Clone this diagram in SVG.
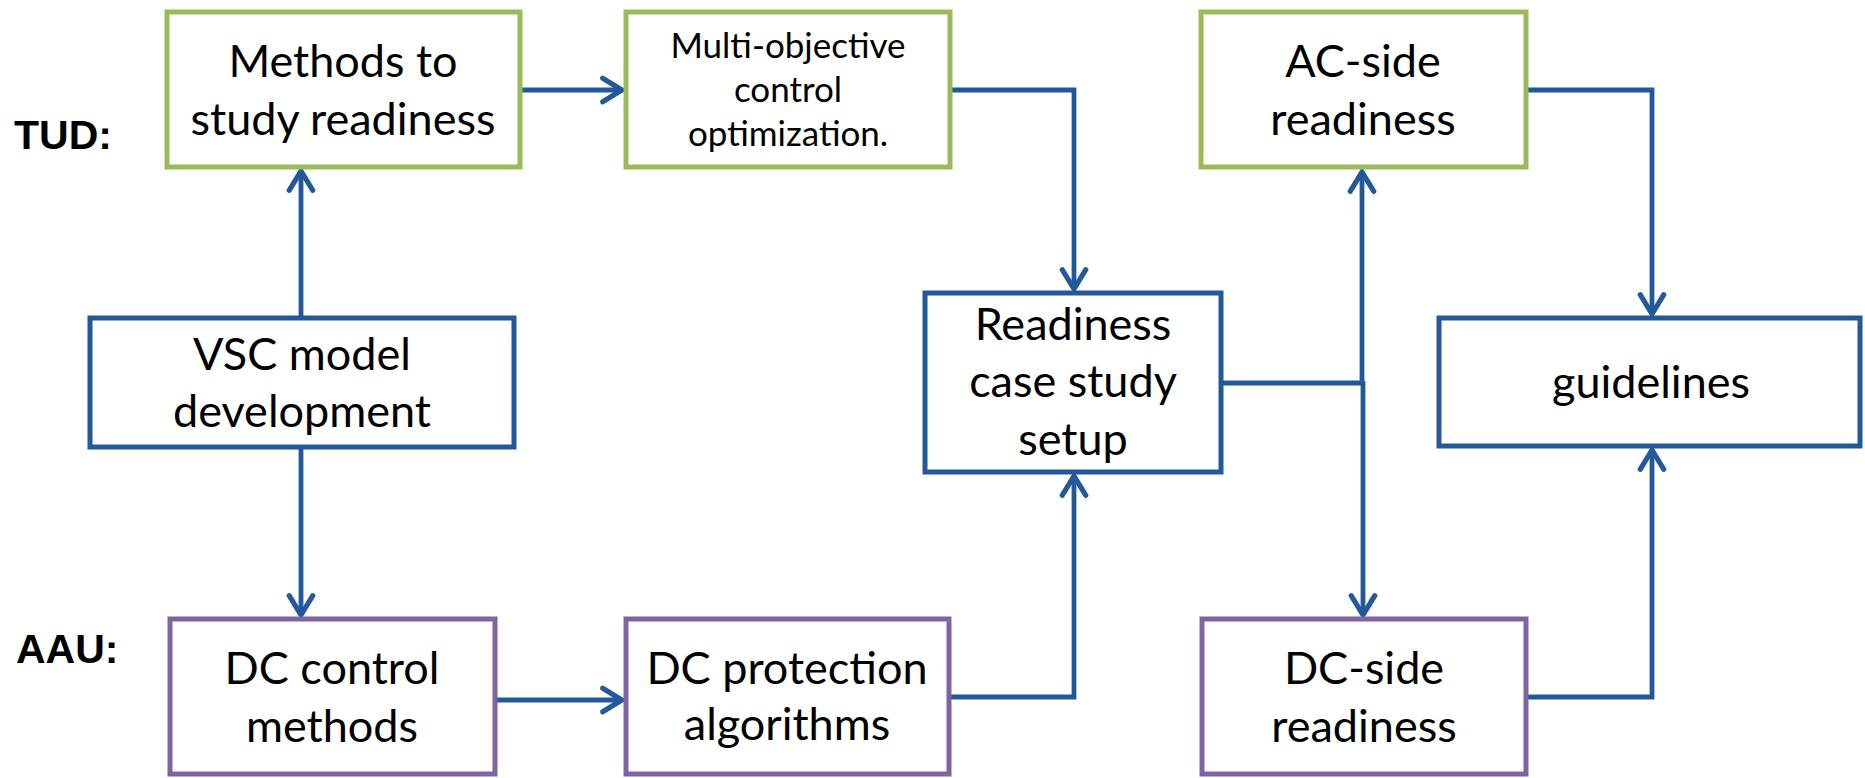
<svg xmlns="http://www.w3.org/2000/svg" width="1865" height="778" viewBox="0 0 1865 778">
<style>
.box{fill:#fff;stroke-width:5}
.g{stroke:#9BBB59}
.b{stroke:#23599B}
.p{stroke:#8064A2}
.t{font-family:Lato,"Liberation Sans",sans-serif;font-size:45px;fill:#000;text-anchor:middle}
.s{font-size:35px}
.lab{font-family:"Liberation Sans",Arial,sans-serif;font-weight:bold;font-size:41px;fill:#000}
.c{fill:none;stroke:#23599B;stroke-width:4.8;stroke-linejoin:miter}
</style>
<defs>
<marker id="ah" markerUnits="userSpaceOnUse" markerWidth="30" markerHeight="30" viewBox="-24 -14 28 28" refX="0" refY="0" orient="auto">
<path d="M -18 -11 L 0 0 L -18 11" fill="none" stroke="#23599B" stroke-width="4.8" stroke-linecap="round" stroke-linejoin="miter"/>
</marker>
</defs>
<rect width="1865" height="778" fill="#fff"/>
<text class="lab" x="14" y="149">TUD:</text>
<text class="lab" x="16" y="663">AAU:</text>
<g id="connectors">
<path class="c" d="M301 316 L301 171" marker-end="url(#ah)"/>
<path class="c" d="M301 449 L301 615" marker-end="url(#ah)"/>
<path class="c" d="M522 90 L622 90" marker-end="url(#ah)"/>
<path class="c" d="M952 90 L1074 90 L1074 289" marker-end="url(#ah)"/>
<path class="c" d="M497 700 L622 700" marker-end="url(#ah)"/>
<path class="c" d="M951 697 L1074 697 L1074 476" marker-end="url(#ah)"/>
<path class="c" d="M1223 383 L1363 383"/>
<path class="c" d="M1362 385 L1362 172" marker-end="url(#ah)"/>
<path class="c" d="M1363 381 L1363 615" marker-end="url(#ah)"/>
<path class="c" d="M1528 90 L1652 90 L1652 314" marker-end="url(#ah)"/>
<path class="c" d="M1528 697 L1652 697 L1652 450" marker-end="url(#ah)"/>
</g>
<g id="methods">
<rect class="box g" x="167" y="12" width="353" height="155"/>
<text class="t" x="343" y="77">Methods to</text>
<text class="t" x="343" y="135">study readiness</text>
</g>
<g id="multi">
<rect class="box g" x="626" y="12" width="324" height="155"/>
<text class="t s" x="788" y="58">Multi-objective</text>
<text class="t s" x="788" y="102">control</text>
<text class="t s" x="788" y="146">optimization.</text>
</g>
<g id="ac">
<rect class="box g" x="1201" y="12" width="325" height="155"/>
<text class="t" x="1363" y="77">AC-side</text>
<text class="t" x="1363" y="135">readiness</text>
</g>
<g id="vsc">
<rect class="box b" x="90" y="318" width="424" height="129"/>
<text class="t" x="302" y="370">VSC model</text>
<text class="t" x="302" y="427">development</text>
</g>
<g id="readiness">
<rect class="box b" x="925" y="293" width="296" height="179"/>
<text class="t" x="1073" y="340">Readiness</text>
<text class="t" x="1073" y="397">case study</text>
<text class="t" x="1073" y="455">setup</text>
</g>
<g id="guidelines">
<rect class="box b" x="1439" y="318" width="421" height="128"/>
<text class="t" x="1651" y="398">guidelines</text>
</g>
<g id="dccontrol">
<rect class="box p" x="170" y="619" width="325" height="155"/>
<text class="t" x="332" y="684">DC control</text>
<text class="t" x="332" y="742">methods</text>
</g>
<g id="dcprotection">
<rect class="box p" x="626" y="619" width="323" height="155"/>
<text class="t" x="787" y="684">DC protection</text>
<text class="t" x="787" y="740">algorithms</text>
</g>
<g id="dcside">
<rect class="box p" x="1202" y="619" width="324" height="155"/>
<text class="t" x="1364" y="684">DC-side</text>
<text class="t" x="1364" y="742">readiness</text>
</g>
</svg>
